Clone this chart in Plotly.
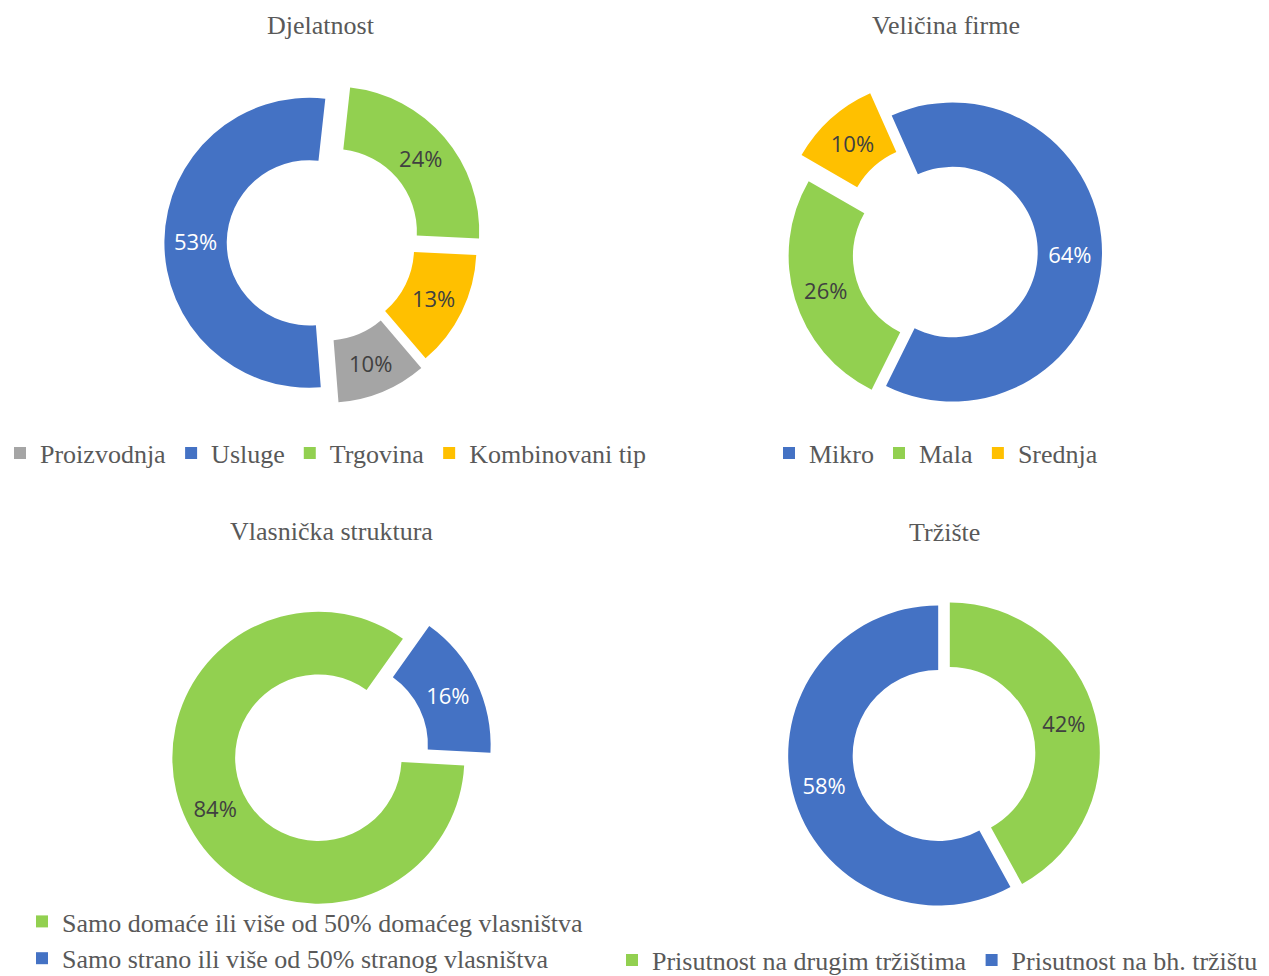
import plotly.graph_objects as go

W, H = 1269, 976

BLUE, GREEN, YELLOW, GRAY = "#4472C4", "#92D050", "#FFC000", "#A5A5A5"
DARK, LIGHT = "#404040", "#FFFFFF"

# --- data -------------------------------------------------------------------
djel_labels = ["Proizvodnja", "Usluge", "Trgovina", "Kombinovani tip"]
djel_values = [10, 53, 24, 13]

vel_labels = ["Mikro", "Mala", "Srednja"]
vel_values = [64, 26, 10]

vlas_labels = [
    "Samo domaće ili više od 50% domaćeg vlasništva",
    "Samo strano ili više od 50% stranog vlasništva",
]
vlas_values = [84, 16]

trz_labels = ["Prisutnost na drugim tržištima", "Prisutnost na bh. tržištu"]
trz_values = [42, 58]

titles = ["Djelatnost", "Veličina firme", "Vlasnička struktura", "Tržište"]


def domain(cx, cy, r, max_pull):
    """Pixel centre/radius -> paper domain (plotly shrinks r by 1+maxPull)."""
    half = r * (1 + max_pull)
    return {
        "x": [(cx - half) / W, (cx + half) / W],
        "y": [1 - (cy + half) / H, 1 - (cy - half) / H],
    }


def donut(labels, values, colors, txtcolors, pull, rotation, dom, legend):
    return go.Pie(
        labels=labels,
        values=values,
        sort=False,
        direction="clockwise",
        rotation=rotation,
        hole=0.57,
        pull=pull,
        domain=dom,
        marker={"colors": colors, "line": {"width": 0}},
        texttemplate="%{value}%",
        textposition="inside",
        insidetextorientation="horizontal",
        insidetextfont={"family": "Open Sans", "size": 22, "color": txtcolors},
        legend=legend,
        showlegend=True,
        hoverinfo="label+value",
    )


fig = go.Figure()
fig.add_trace(donut(djel_labels, djel_values, [GRAY, BLUE, GREEN, YELLOW],
                    [DARK, LIGHT, DARK, DARK], [0.11, 0.08, 0.12, 0.08], 139.5,
                    domain(321, 243, 145, 0.12), "legend"))
fig.add_trace(donut(vel_labels, vel_values, [BLUE, GREEN, YELLOW],
                    [LIGHT, DARK, DARK], [0.01, 0.09, 0.2], 336,
                    domain(951, 252, 149.5, 0.2), "legend2"))
fig.add_trace(donut(vlas_labels, vlas_values, [GREEN, BLUE],
                    [DARK, LIGHT], [0.1, 0.1], 93,
                    domain(331.5, 751.4, 146, 0.1), "legend3"))
fig.add_trace(donut(trz_labels, trz_values, [GREEN, BLUE],
                    [DARK, LIGHT], [0.04, 0.04], 0,
                    domain(944, 754, 150, 0.04), "legend4"))

serif = {"family": "Liberation Serif", "size": 26, "color": "#595959"}
title_pos = [(321, 25), (946, 25), (331, 531), (944, 532)]
annotations = [
    {"text": t, "x": px / W, "y": 1 - py / H, "xref": "paper", "yref": "paper",
     "xanchor": "center", "yanchor": "middle", "showarrow": False, "font": serif}
    for t, (px, py) in zip(titles, title_pos)
]

leg_common = {"orientation": "h", "font": serif, "itemwidth": 30,
              "bgcolor": "rgba(0,0,0,0)", "xanchor": "left", "yanchor": "middle",
              "traceorder": "normal"}

fig.update_layout(
    width=W,
    height=H,
    # autoexpand off: legends near the edge must not shrink the plot area
    margin={"l": 0, "r": 0, "t": 0, "b": 0, "autoexpand": False},
    paper_bgcolor="white",
    plot_bgcolor="white",
    annotations=annotations,
    legend={**leg_common, "x": 0, "y": 1 - 453 / H},
    legend2={**leg_common, "x": 769 / W, "y": 1 - 453 / H},
    legend3={**leg_common, "orientation": "v", "x": 22 / W, "y": 1 - 940 / H},
    legend4={**leg_common, "x": 612 / W, "y": 1 - 960 / H},
)

# drop the page's default 8px body margin so the figure sits at (0, 0)
fig.write_html("out.html", config={"displayModeBar": False},
               post_script="document.body.style.margin='0px';")
